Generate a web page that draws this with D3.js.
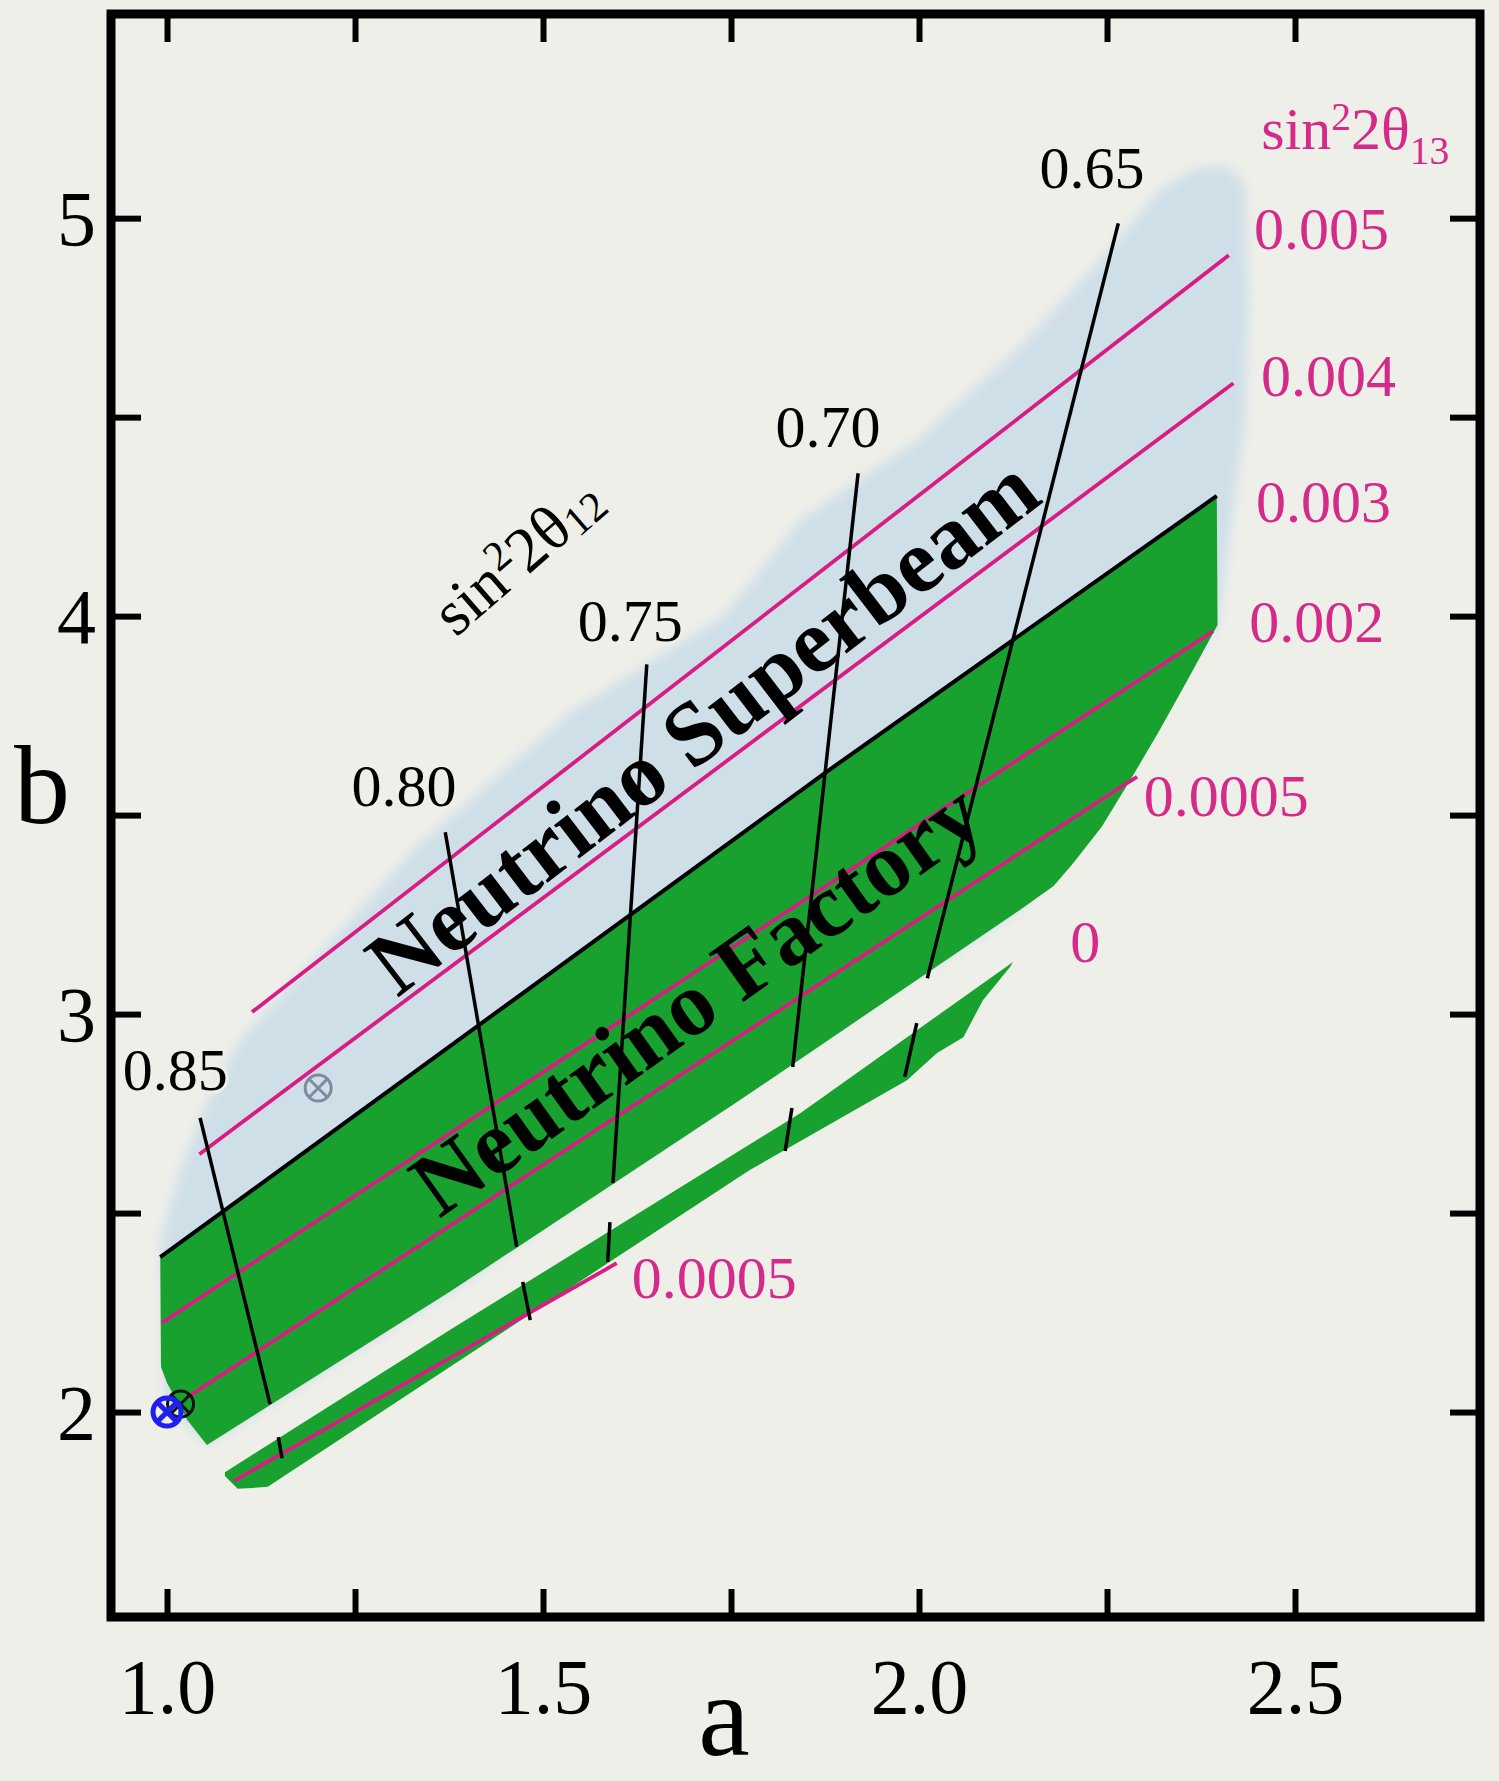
<!DOCTYPE html>
<html><head><meta charset="utf-8">
<script src="https://cdn.jsdelivr.net/npm/d3@7"></script>
<style>
html,body{margin:0;padding:0;background:#efefe9;}
svg{display:block;}
text{font-family:"Liberation Serif","Times New Roman",serif;}
</style></head><body>
<svg id="chart" width="1499" height="1781"></svg>
<script>
// ---------------- data (values in a, b coordinates) ----------------
const xDomain = [0.9255, 2.746];
const yDomain = [1.485, 5.513];
const xTickValues = [1.0, 1.25, 1.5, 1.75, 2.0, 2.25, 2.5];
const xTickLabels = {"1": "1.0", "1.5": "1.5", "2": "2.0", "2.5": "2.5"};
const yTickValues = [2, 2.5, 3, 3.5, 4, 4.5, 5];
const yTickLabels = {"2": "2", "3": "3", "4": "4", "5": "5"};

// Neutrino Superbeam allowed region (light blue)
const superbeamRegion = [
  [0.991,2.432],[1.015,2.595],[1.051,2.771],[1.097,2.935],[1.177,3.098],[1.334,3.425],
  [1.537,3.759],[1.741,4.003],[1.842,4.241],[1.997,4.442],[2.130,4.670],[2.241,4.895],
  [2.320,5.070],[2.367,5.126],[2.411,5.131],[2.434,5.083],[2.438,4.794],[2.434,4.492],
  [2.416,4.241],[2.397,3.978],[2.137,3.265],[1.775,2.827],[1.376,2.302],[1.053,1.917],
  [0.997,2.030]
];
// Neutrino Factory main band (green)
const factoryMainBand = [
  [0.991,2.389],[1.878,3.610],[2.396,4.302],[2.397,3.978],[2.356,3.836],[2.318,3.707],
  [2.280,3.585],[2.243,3.471],[2.205,3.379],[2.179,3.322],[2.137,3.265],[1.762,2.784],
  [1.376,2.302],[1.053,1.917],[1.027,1.980],[1.000,2.073],[0.992,2.113]
];
// Neutrino Factory lower band (green)
const factoryLowerBand = [
  [1.077,1.849],[1.376,2.206],[1.842,2.751],[2.125,3.131],[2.121,3.118],[2.085,3.035],
  [2.059,2.942],[2.024,2.902],[1.984,2.834],[1.775,2.608],[1.598,2.389],[1.376,2.113],
  [1.134,1.812],[1.094,1.807],[1.077,1.839]
];

// sin^2 2theta13 contours (magenta; 0.003 is the black band edge)
const s13_0005  = [[1.113,3.005],[2.412,4.907]];
const s13_0004  = [[1.043,2.648],[2.418,4.585]];
const s13_0003  = [[0.991,2.389],[1.878,3.610],[2.396,4.302]];
const s13_0002  = [[0.993,2.224],[2.391,3.962]];
const s13_00005 = [[1.028,2.038],[2.276,3.580],[2.290,3.596]];
const s13_00005Lower = [[1.089,1.827],[1.598,2.374]];
const s13Labels = ["0.005","0.004","0.003","0.002","0.0005","0","0.0005"];
const s13LabelAt = [[2.4455,4.922],[2.4548,4.553],[2.448,4.236],[2.439,3.935],[2.299,3.497],[2.201,3.131],[1.618,2.286]];

// sin^2 2theta12 contours (black), each split into band segments
const s12_085 = [[[1.044,2.739],[1.137,2.020]], [[1.148,1.937],[1.153,1.884]]];
const s12_080 = [[[1.370,3.457],[1.465,2.415]], [[1.473,2.327],[1.483,2.231]]];
const s12_075 = [[[1.638,3.879],[1.593,2.575]], [[1.589,2.477],[1.586,2.377]]];
const s12_070 = [[[1.919,4.359],[1.832,2.867]], [[1.831,2.764],[1.822,2.656]]];
const s12_065 = [[[2.265,4.987],[2.011,3.090]], [[1.997,2.977],[1.981,2.842]]];
const s12Labels = ["0.85","0.80","0.75","0.70","0.65"];
const s12LabelAt = [[1.011,2.809],[1.315,3.523],[1.616,3.937],[1.879,4.425],[2.230,5.075]];

// markers
const markerBlue = [1.000, 2.000];
const markerBlack = [1.018, 2.020];
const markerGray = [1.201, 2.814];

// annotation anchors (a, b) and angles
const superbeamText = {text:"Neutrino Superbeam", at:[1.306,3.040], angle:-37.5};
const factoryText = {text:"Neutrino Factory", at:[1.362,2.485], angle:-35.5};
const s12TitleAt = [1.384,3.945];
const s13TitleAt = [2.455,5.173];

// ---------------- layout ----------------
const L = 111, R = 1480, T = 14, B = 1617;
const svg = d3.select("#chart");
const x = d3.scaleLinear().domain(xDomain).range([L, R]);
const y = d3.scaleLinear().domain(yDomain).range([B, T]);
const P = d => [x(d[0]), y(d[1])];
const line = d3.line().x(d => x(d[0])).y(d => y(d[1]));
const closed = d3.line().x(d => x(d[0])).y(d => y(d[1])).curve(d3.curveLinearClosed);

const BG = "#efefe9", BLUE = "#cfdfe8", GREEN = "#19a12f",
      PINK = "#d81c84", PINKTXT = "#d42a8a";

svg.append("rect").attr("width",1499).attr("height",1781).attr("fill",BG);

const defs = svg.append("defs");
defs.append("filter").attr("id","soft")
  .attr("x","-10%").attr("y","-10%").attr("width","120%").attr("height","120%")
  .append("feGaussianBlur").attr("stdDeviation",6);

// regions
svg.append("path").attr("d", closed(superbeamRegion)).attr("fill", BLUE).attr("filter","url(#soft)");
svg.append("path").attr("d", closed(factoryMainBand)).attr("fill", GREEN);
svg.append("path").attr("d", closed(factoryLowerBand)).attr("fill", GREEN);

// magenta contours
[s13_0005, s13_0004, s13_0002, s13_00005, s13_00005Lower].forEach(c => {
  svg.append("path").attr("d", line(c)).attr("fill","none")
    .attr("stroke", PINK).attr("stroke-width", 3.8);
});
svg.append("path").attr("d", line(s13_0003)).attr("fill","none")
  .attr("stroke", "#000").attr("stroke-width", 4);

// black sin^2 2theta12 contours
[s12_085, s12_080, s12_075, s12_070, s12_065].forEach(c => {
  c.forEach(seg => svg.append("path").attr("d", line(seg)).attr("fill","none")
    .attr("stroke","#000").attr("stroke-width",3.5));
});

// region titles
function rotText(cfg, size) {
  const [px, py] = P(cfg.at);
  svg.append("text").attr("transform", `translate(${px},${py}) rotate(${cfg.angle})`)
    .attr("font-size", size).attr("font-weight","bold").attr("fill","#000")
    .text(cfg.text);
}
rotText(superbeamText, 91);
rotText(factoryText, 91);

// markers
function cross(c, r, color, w) {
  const [cx, cy] = P(c);
  const g = svg.append("g").attr("stroke", color).attr("stroke-width", w).attr("fill","none");
  g.append("circle").attr("cx",cx).attr("cy",cy).attr("r",r);
  const k = r*0.72;
  g.append("line").attr("x1",cx-k).attr("y1",cy-k).attr("x2",cx+k).attr("y2",cy+k);
  g.append("line").attr("x1",cx-k).attr("y1",cy+k).attr("x2",cx+k).attr("y2",cy-k);
}
cross(markerBlack, 13, "#111", 3);
cross(markerBlue, 14, "#1f1ff0", 5);
cross(markerGray, 13, "#7f8aa2", 3);

// contour labels
s12Labels.forEach((t,i) => {
  const [px,py] = P(s12LabelAt[i]);
  svg.append("text").attr("x",px).attr("y",py).attr("text-anchor","middle")
    .attr("font-size",60).attr("fill","#000")
    .attr("stroke",BG).attr("stroke-width",6).attr("paint-order","stroke")
    .text(t);
});
s13Labels.forEach((t,i) => {
  const [px,py] = P(s13LabelAt[i]);
  svg.append("text").attr("x",px).attr("y",py).attr("font-size",60).attr("fill",PINKTXT).text(t);
});

function mathLabel(sel, fs, sub, subDrop) {
  sel.append("tspan").text("sin");
  sel.append("tspan").attr("font-size", fs*0.66).attr("dy", -fs*0.33).text("2");
  sel.append("tspan").attr("font-size", fs).attr("dy", fs*0.33).text("2θ");
  sel.append("tspan").attr("font-size", fs*0.66).attr("dy", fs*subDrop).text(sub);
}
{
  const [px,py] = P(s13TitleAt);
  const t = svg.append("text").attr("x",px).attr("y",py).attr("font-size",60).attr("fill",PINKTXT);
  mathLabel(t, 60, "13", 0.24);
}
{
  const [px,py] = P(s12TitleAt);
  const t = svg.append("text").attr("transform",`translate(${px},${py}) rotate(-41)`)
    .attr("font-size",64).attr("fill","#000");
  mathLabel(t, 64, "12", 0.08);
}

// axes
const fmtX = d => xTickLabels[String(d)] || "";
const fmtY = d => yTickLabels[String(d)] || "";
const gb = svg.append("g").attr("transform",`translate(0,${B})`)
  .call(d3.axisBottom(x).tickValues(xTickValues).tickSize(-28).tickFormat(fmtX));
gb.selectAll("text").attr("y",96).attr("dy",null).attr("font-size",78)
  .attr("fill","#000").attr("font-family","Liberation Serif, serif");
svg.append("g").attr("transform",`translate(0,${T})`)
  .call(d3.axisTop(x).tickValues(xTickValues).tickSize(-28).tickFormat(""));
const gl = svg.append("g").attr("transform",`translate(${L},0)`)
  .call(d3.axisLeft(y).tickValues(yTickValues).tickSize(-30).tickFormat(fmtY));
gl.selectAll("text").attr("x",-15).attr("dy","0.34em").attr("font-size",78)
  .attr("fill","#000").attr("font-family","Liberation Serif, serif");
svg.append("g").attr("transform",`translate(${R},0)`)
  .call(d3.axisRight(y).tickValues(yTickValues).tickSize(-30).tickFormat(""));
svg.selectAll(".domain").remove();
svg.selectAll(".tick line").attr("stroke","#000").attr("stroke-width",6);

svg.append("rect").attr("x",L).attr("y",T).attr("width",R-L).attr("height",B-T)
  .attr("fill","none").attr("stroke","#000").attr("stroke-width",9);

// axis titles
svg.append("text").attr("x",724).attr("y",1755).attr("text-anchor","middle")
  .attr("font-size",116).attr("fill","#000").text("a");
svg.append("text").attr("x",42).attr("y",823).attr("text-anchor","middle")
  .attr("font-size",112).attr("fill","#000").text("b");
</script>
</body></html>
